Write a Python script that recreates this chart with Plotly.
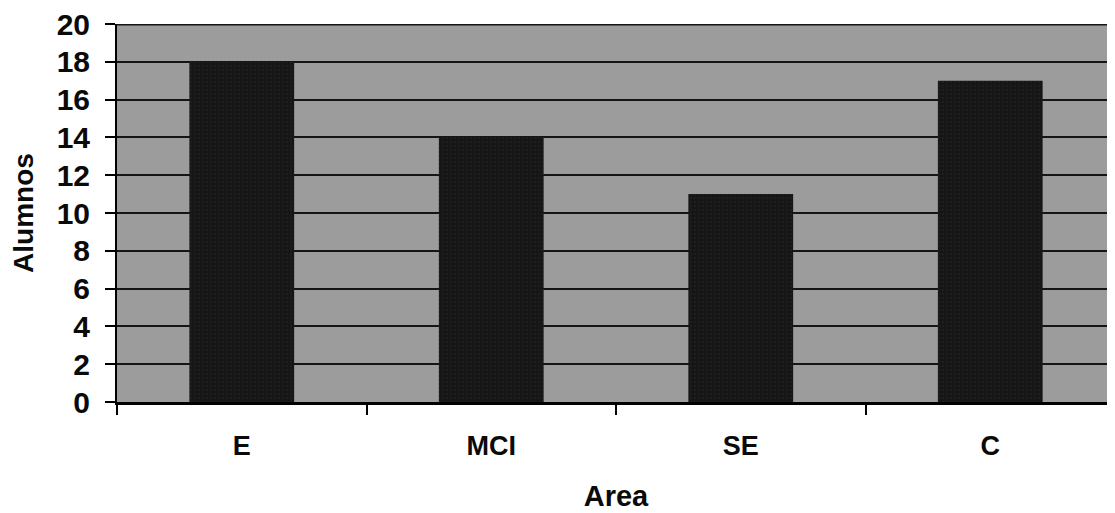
import plotly.graph_objects as go

categories = ["E", "MCI", "SE", "C"]
alumnos = [18, 14, 11, 17]
y_ticks = list(range(0, 21, 2))

fig = go.Figure()
fig.add_trace(go.Bar(
    x=categories, y=alumnos,
    marker=dict(color="#161616", line=dict(width=0),
                pattern=dict(shape=".", fgcolor="#3a3a3a", bgcolor="#161616", size=4, solidity=0.12)),
    width=0.42,
))

fam = "Liberation Sans, Arial, sans-serif"
fig.update_layout(
    width=1107, height=505,
    margin=dict(l=109, r=0, t=16, b=111),
    paper_bgcolor="white",
    plot_bgcolor="#9c9c9c",
    showlegend=False,
    font=dict(family=fam, color="#0a0a0a"),
)
# top border of the plot area (gridline at the axis maximum)
fig.add_shape(type="line", xref="paper", x0=0, x1=1, yref="y", y0=y_ticks[-1], y1=y_ticks[-1],
              line=dict(color="#151515", width=3), layer="above")
fig.update_xaxes(
    title=dict(text="<b>Area</b>", font=dict(size=29), standoff=26),
    tickfont=dict(size=27),
    ticktext=[f"<b>{c}</b>" for c in categories], tickvals=categories,
    ticks="outside", tickson="boundaries", ticklen=10, tickwidth=1.5, tickcolor="black",
    ticklabelstandoff=18,
    showline=True, linecolor="black", linewidth=2.5,
    showgrid=False, range=[-0.5, 3.5], automargin=False,
)
fig.update_yaxes(
    title=dict(text="<b>Alumnos</b>", font=dict(size=28), standoff=16),
    range=[0, 20], tickvals=y_ticks, ticktext=[f"<b>{v}</b>" for v in y_ticks],
    tickfont=dict(size=30), ticklabeloverflow="allow",
    ticks="outside", ticklen=10, tickwidth=1.5, tickcolor="black",
    ticklabelstandoff=9,
    showline=True, linecolor="black", linewidth=2,
    showgrid=True, gridcolor="#151515", gridwidth=2,
    zeroline=False, automargin=False,
)
fig.write_html("out.html")
